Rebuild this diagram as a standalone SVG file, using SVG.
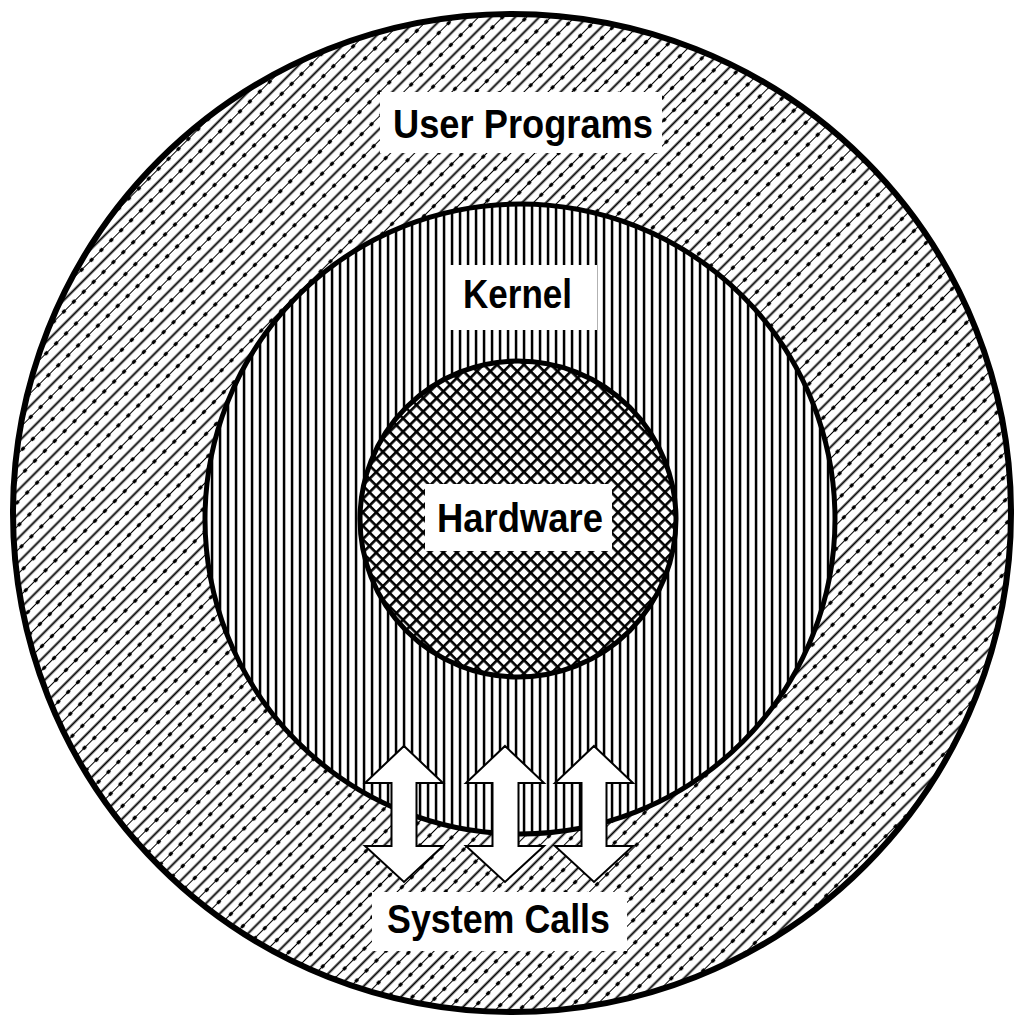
<svg xmlns="http://www.w3.org/2000/svg" width="1014" height="1019" viewBox="0 0 1014 1019">
<style>
.ring{stroke:#000;stroke-width:5}
.outer{stroke-width:6}
.lbl{fill:#fff;stroke:none}
.txt{font-family:"Liberation Sans",Arial,sans-serif;font-weight:bold;font-size:40px;fill:#000;text-anchor:middle}
.arrow{fill:#fff;stroke:#000;stroke-width:2;stroke-linejoin:miter}
</style>
<defs>
<pattern id="diag" patternUnits="userSpaceOnUse" width="17" height="14" patternTransform="rotate(45)">
<rect width="17" height="14" fill="#fff"/>
<rect x="1.5" y="0" width="1.9" height="14" fill="#000"/>
<rect x="10" y="0" width="1" height="14" fill="#000"/>
<ellipse cx="10.5" cy="7" rx="1.8" ry="2.5" fill="#000"/>
</pattern>
<pattern id="vert" patternUnits="userSpaceOnUse" width="8" height="8">
<rect width="8" height="8" fill="#fff"/>
<rect x="2.8" y="0" width="2.5" height="8" fill="#000"/>
</pattern>
<pattern id="cross" patternUnits="userSpaceOnUse" width="9.5" height="9.5" patternTransform="rotate(45)">
<rect width="9.5" height="9.5" fill="#fff"/>
<rect x="0" y="0" width="2.6" height="9.5" fill="#000"/>
<rect x="0" y="0" width="9.5" height="2.6" fill="#000"/>
</pattern>
</defs>
<rect width="1014" height="1019" fill="#fff"/>
<g id="user-programs">
<circle class="ring outer" cx="512" cy="513" r="499" fill="url(#diag)"/>
</g>
<g id="kernel">
<circle class="ring" cx="520" cy="519" r="315" fill="url(#vert)"/>
</g>
<g id="hardware">
<circle class="ring" cx="518" cy="519" r="158" fill="url(#cross)"/>
</g>
<g id="connectors">
<path class="arrow" d="M404,746 L443,783 L416.5,783 L416.5,846 L443,846 L404,882 L365,846 L391.5,846 L391.5,783 L365,783 Z"/>
<path class="arrow" d="M505,746 L544,783 L518.5,783 L518.5,846 L544,846 L505,882 L466,846 L492.5,846 L492.5,783 L466,783 Z"/>
<path class="arrow" d="M594,746 L633,783 L606.5,783 L606.5,846 L633,846 L594,882 L555,846 L581.5,846 L581.5,783 L555,783 Z"/>
</g>
<g id="label-user-programs">
<rect class="lbl" x="380" y="92" width="282" height="61"/>
<text class="txt" x="523" y="138" textLength="260" lengthAdjust="spacingAndGlyphs">User Programs</text>
</g>
<g id="label-kernel">
<rect class="lbl" x="447" y="265" width="150" height="65"/>
<text class="txt" x="517.5" y="308" textLength="109" lengthAdjust="spacingAndGlyphs">Kernel</text>
</g>
<g id="label-hardware">
<rect class="lbl" x="425" y="484" width="187" height="67"/>
<text class="txt" x="520" y="532" textLength="166" lengthAdjust="spacingAndGlyphs">Hardware</text>
</g>
<g id="label-system-calls">
<rect class="lbl" x="372" y="892" width="255" height="59"/>
<text class="txt" x="498.5" y="933" textLength="223" lengthAdjust="spacingAndGlyphs">System Calls</text>
</g>
</svg>
